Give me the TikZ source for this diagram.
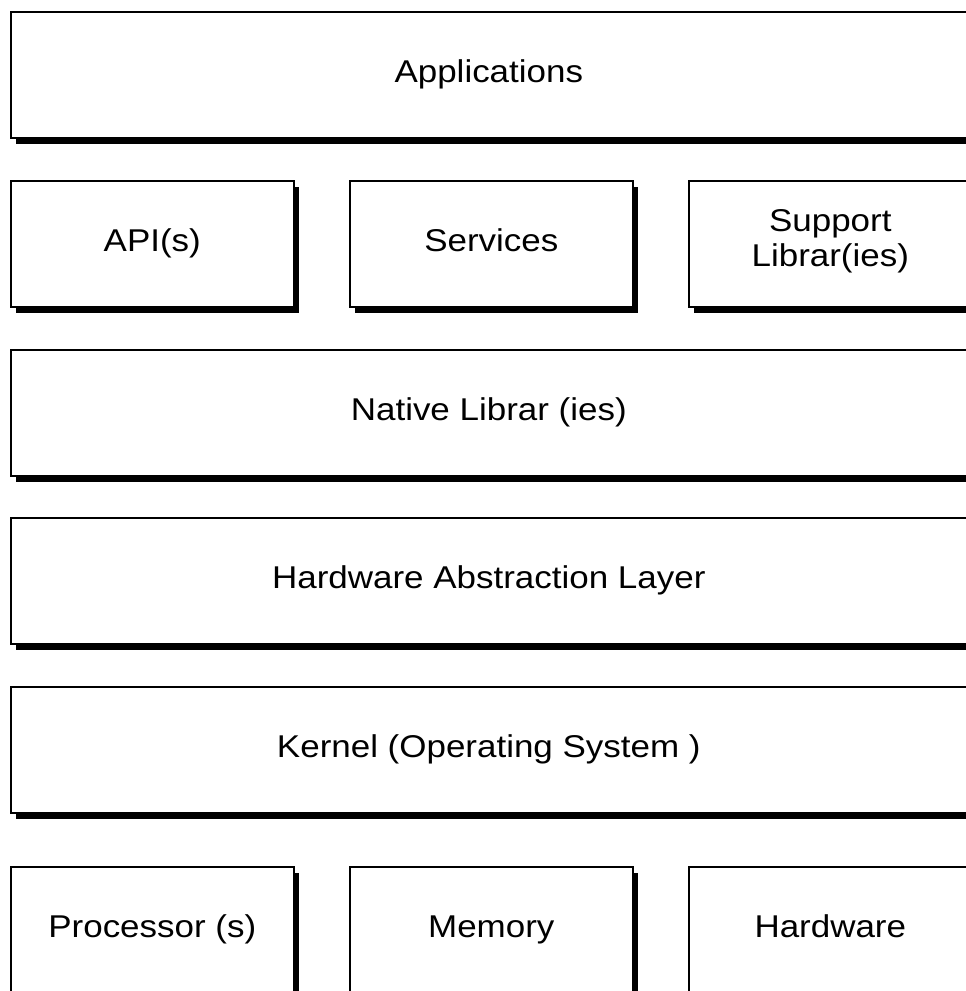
\documentclass[tikz,border=0pt]{standalone}
\usepackage{fontspec}
\setmainfont{Liberation Sans}[FakeStretch=1.11]
\usetikzlibrary{shadows}
\begin{document}
\begin{tikzpicture}[x=1pt,y=-1pt,
  layer/.style={draw=black, line width=1.6pt, fill=white, anchor=north west,
    minimum height=126pt, inner sep=0pt, align=center,
    font=\fontsize{31.5}{35}\selectfont,
    drop shadow={shadow xshift=5pt, shadow yshift=-6pt, fill=black, opacity=1}},
  oneline/.style={text height=22.5pt, text depth=6.5pt},
  wide/.style={layer, oneline, minimum width=956pt},
  narrow/.style={layer, oneline, minimum width=283pt},
  narrowtwo/.style={layer, minimum width=283pt}]
\useasboundingbox (0,0) rectangle (966,991);
\node[wide] (app) at (10,11) {Applications};
\node[narrow] (api) at (10,180) {API(s)};
\node[narrow] (svc) at (349,180) {Services};
\node[narrowtwo] (sup) at (688,180) {};
\node[align=center, font=\fontsize{31.5}{35}\selectfont, inner sep=0pt] (suptext) at ([yshift=3pt]sup.center) {Support\\Librar(ies)};
\node[wide] (nat) at (10,349) {Native Librar (ies)};
\node[wide] (hal) at (10,517) {Hardware Abstraction Layer};
\node[wide] (ker) at (10,686) {Kernel (Operating System )};
\node[narrow] (cpu) at (10,866) {Processor (s)};
\node[narrow] (mem) at (349,866) {Memory};
\node[narrow] (hw) at (688,866) {Hardware};
\end{tikzpicture}
\end{document}
